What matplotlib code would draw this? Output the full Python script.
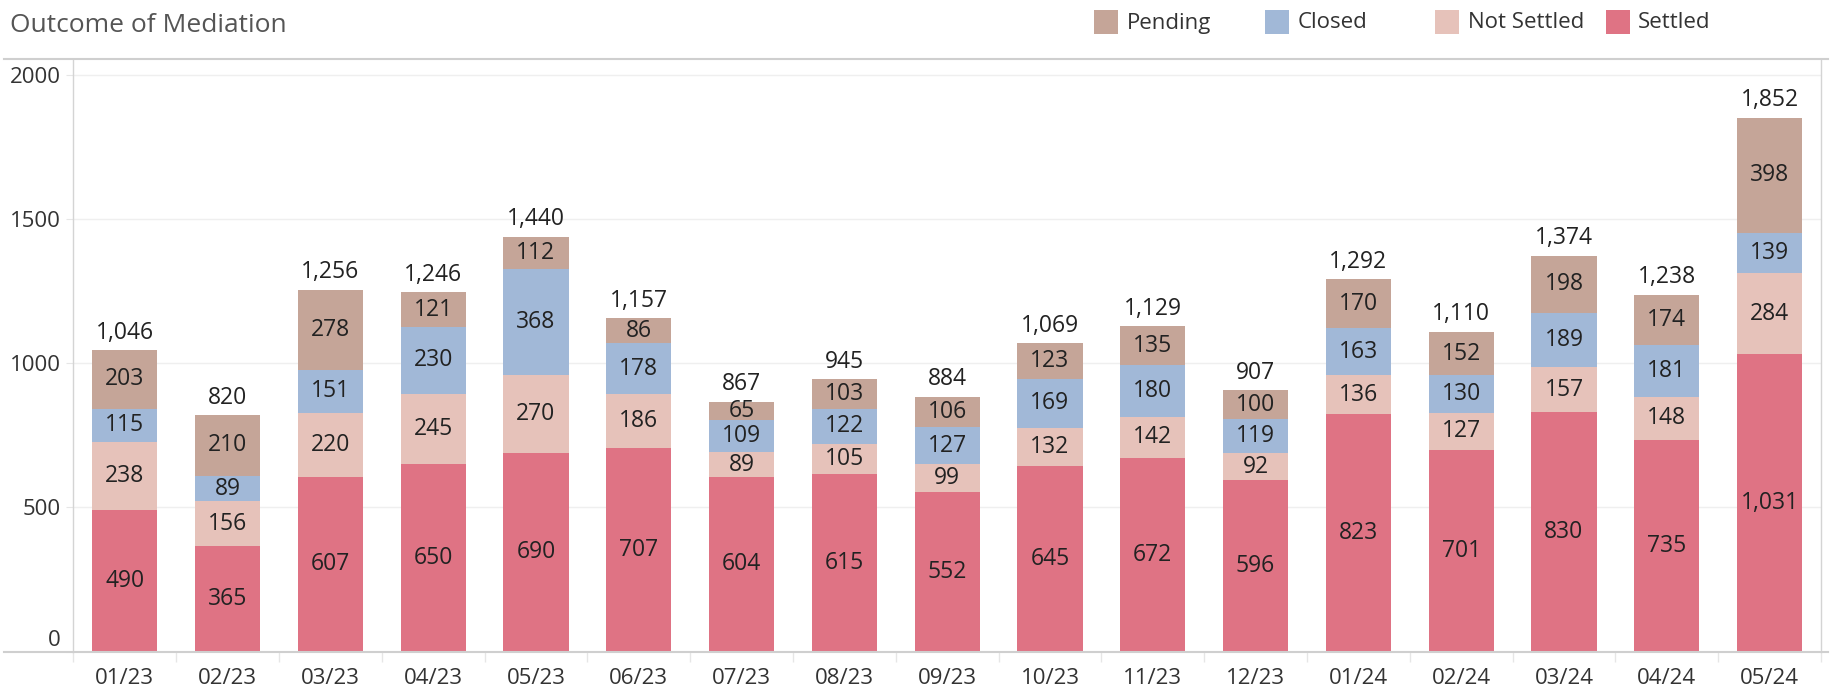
import matplotlib
matplotlib.use("Agg")
import matplotlib.pyplot as plt
import numpy as np
from matplotlib.lines import Line2D
from matplotlib.patches import Rectangle

months = ["01/23", "02/23", "03/23", "04/23", "05/23", "06/23", "07/23", "08/23", "09/23",
          "10/23", "11/23", "12/23", "01/24", "02/24", "03/24", "04/24", "05/24"]
settled = [490, 365, 607, 650, 690, 707, 604, 615, 552, 645, 672, 596, 823, 701, 830, 735, 1031]
not_settled = [238, 156, 220, 245, 270, 186, 89, 105, 99, 132, 142, 92, 136, 127, 157, 148, 284]
closed = [115, 89, 151, 230, 368, 178, 109, 122, 127, 169, 180, 119, 163, 130, 189, 181, 139]
pending = [203, 210, 278, 121, 112, 86, 65, 103, 106, 123, 135, 100, 170, 152, 198, 174, 398]

series_names = ["Settled", "Not Settled", "Closed", "Pending"]
series_vals = [settled, not_settled, closed, pending]
colors = {"Settled": "#df7384", "Not Settled": "#e6c2ba", "Closed": "#a1b8d7", "Pending": "#c5a598"}
yticks = [0, 500, 1000, 1500, 2000]

plt.rcParams['font.family'] = ['Open Sans', 'DejaVu Sans']

W, H = 1830, 688
fig = plt.figure(figsize=(W/100, H/100), dpi=100)
L, R, B, T = 73.3, 1821, 651.5, 58.5
ax = fig.add_axes([L/W, 1-B/H, (R-L)/W, (B-T)/H])

x = np.arange(len(months))
bottom = np.zeros(len(months))
w = 0.634
for name, vals in zip(series_names, series_vals):
    v = np.array(vals, dtype=float)
    ax.bar(x, v, w, bottom=bottom, color=colors[name], zorder=2, linewidth=0)
    for xi, b, vi in zip(x, bottom, v):
        ax.text(xi, b + vi/2, f"{int(vi):,}", ha='center', va='center',
                fontsize=16.5, color='#222222', zorder=3)
    bottom += v

for xi, t in zip(x, bottom):
    ax.annotate(f"{int(t):,}", (xi, t), xytext=(0, 12.5), textcoords='offset points',
                ha='center', va='center', fontsize=16.5, color='#222222')

ax.set_xlim(-0.486, len(months) - 1 + 0.42)
ax.set_ylim(0, 2058)
ax.set_yticks(yticks)
ax.set_yticklabels([str(t) for t in yticks])
ax.set_xticks(x)
ax.set_xticklabels(months)
ax.set_xticks(np.arange(-0.5, len(months), 1.0), minor=True)
ax.tick_params(axis='x', which='major', length=0, pad=12, labelsize=16, labelcolor='#333333')
ax.tick_params(axis='x', which='minor', length=7, color='#e6e6e6', width=1)
ax.tick_params(axis='y', which='major', length=5, color='#e6e6e6', pad=4, labelsize=16, labelcolor='#333333')
ax.get_yticklabels()[0].set_verticalalignment('bottom')
ax.grid(axis='y', color='#efefef', linewidth=1, zorder=0)
for s in ['left', 'right']:
    ax.spines[s].set_color('#d4d4d4')
    ax.spines[s].set_linewidth(1)
ax.spines['top'].set_visible(False)
ax.spines['bottom'].set_visible(False)

fig.add_artist(Line2D([0.002, 0.999], [1-T/H, 1-T/H], transform=fig.transFigure,
                      color='#cfcfcf', linewidth=1.5))
fig.add_artist(Line2D([0.002, 0.999], [1-B/H, 1-B/H], transform=fig.transFigure,
                      color='#cfcfcf', linewidth=1.5))

fig.text(10/W, 1-26/H, "Outcome of Mediation", fontsize=19, color='#555555',
         ha='left', va='center')

legend_items = [("Pending", 1094, 1127), ("Closed", 1265, 1298),
                ("Not Settled", 1435, 1468), ("Settled", 1606, 1638)]
for name, sx, tx in legend_items:
    fig.add_artist(Rectangle((sx/W, 1-34/H), 24/W, 24/H, transform=fig.transFigure,
                             color=colors[name], linewidth=0))
    fig.text(tx/W, 1-23/H, name, fontsize=16, color='#333333', ha='left', va='center')

fig.savefig("out.png", dpi=100)
